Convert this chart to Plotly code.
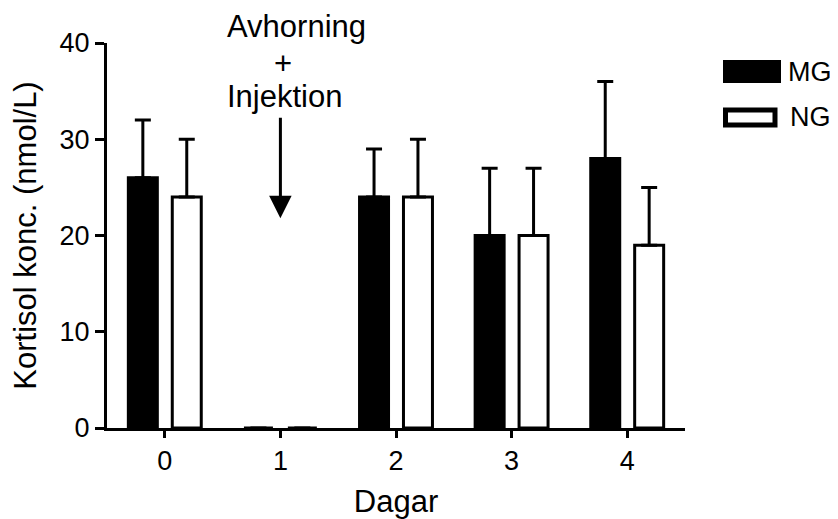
import plotly.graph_objects as go

days = [0, 1, 2, 3, 4]
day_labels = ["0", "1", "2", "3", "4"]
mg_values = [26, 0, 24, 20, 28]
mg_err = [6, 0, 5, 7, 8]
ng_values = [24, 0, 24, 20, 19]
ng_err = [6, 0, 6, 7, 6]
series_names = ["MG", "NG"]

FONT = "Arial, Liberation Sans, sans-serif"

fig = go.Figure()
fig.add_trace(go.Bar(
    x=days, y=mg_values, name=series_names[0],
    marker=dict(color="black", line=dict(color="black", width=3)),
    error_y=dict(type="data", array=mg_err, arrayminus=[0] * len(mg_err),
                 symmetric=False, color="black", thickness=3, width=8),
    showlegend=False,
))
fig.add_trace(go.Bar(
    x=days, y=ng_values, name=series_names[1],
    marker=dict(color="white", line=dict(color="black", width=3)),
    error_y=dict(type="data", array=ng_err, arrayminus=[0] * len(ng_err),
                 symmetric=False, color="black", thickness=3, width=8),
    showlegend=False,
))

# the page body has an 8px default margin; compensate
OFF = 8
W, H = 838 - OFF, 519 - OFF
L, T = 107 - OFF, 43 - OFF
R = W - (685 - OFF)
B = H - (428 - OFF)
pw, ph = W - L - R, H - T - B


def px(x):
    return (x - OFF - L) / pw


def py(y):
    return (H - B - (y - OFF)) / ph


fig.update_layout(
    width=W, height=H,
    margin=dict(l=L, r=R, t=T, b=B, pad=0, autoexpand=False),
    paper_bgcolor="white", plot_bgcolor="white",
    barmode="group", bargap=0.24, bargroupgap=0.34,
    font=dict(family=FONT, color="black", size=27),
    xaxis=dict(
        range=[-0.5, 4.5], tickvals=days, ticktext=day_labels,
        showline=True, linecolor="black", linewidth=3,
        ticks="outside", ticklen=7, tickwidth=3, tickcolor="black",
        showgrid=False, zeroline=False, automargin=False,
        tickfont=dict(size=27),
        title=dict(text="Dagar", font=dict(size=31), standoff=18),
    ),
    yaxis=dict(
        range=[0, 40], dtick=10,
        showline=True, linecolor="black", linewidth=3,
        ticks="outside", ticklen=9, tickwidth=3, tickcolor="black",
        showgrid=False, zeroline=False, automargin=False,
        tickfont=dict(size=27),
        title=dict(text="Kortisol konc. (nmol/L)", font=dict(size=31), standoff=16),
    ),
    showlegend=False,
)

# annotation text + arrow
fig.add_annotation(text="Avhorning", xref="paper", yref="paper",
                   x=px(225), y=py(26), xanchor="left", yanchor="middle",
                   showarrow=False, font=dict(size=31))
fig.add_annotation(text="+", xref="paper", yref="paper",
                   x=px(283), y=py(63), xanchor="center", yanchor="middle",
                   showarrow=False, font=dict(size=31))
fig.add_annotation(text="Injektion", xref="paper", yref="paper",
                   x=px(225), y=py(96), xanchor="left", yanchor="middle",
                   showarrow=False, font=dict(size=31))
fig.add_annotation(x=1, y=21.8, ax=1, ay=32.4, xref="x", yref="y",
                   axref="x", ayref="y", text="", showarrow=True,
                   arrowhead=2, arrowsize=1.5, arrowwidth=3, arrowcolor="black")

# legend drawn as shapes
fig.add_shape(type="rect", xref="paper", yref="paper",
              x0=px(723), x1=px(781), y0=py(83), y1=py(60),
              fillcolor="black", line=dict(color="black", width=0))
fig.add_shape(type="rect", xref="paper", yref="paper",
              x0=px(725.5), x1=px(775), y0=py(125), y1=py(110),
              fillcolor="white", line=dict(color="black", width=5))
fig.add_annotation(text=series_names[0], xref="paper", yref="paper",
                   x=px(786), y=py(72), xanchor="left", yanchor="middle",
                   showarrow=False, font=dict(size=27))
fig.add_annotation(text=series_names[1], xref="paper", yref="paper",
                   x=px(788), y=py(117), xanchor="left", yanchor="middle",
                   showarrow=False, font=dict(size=27))

fig.write_html("out.html")
